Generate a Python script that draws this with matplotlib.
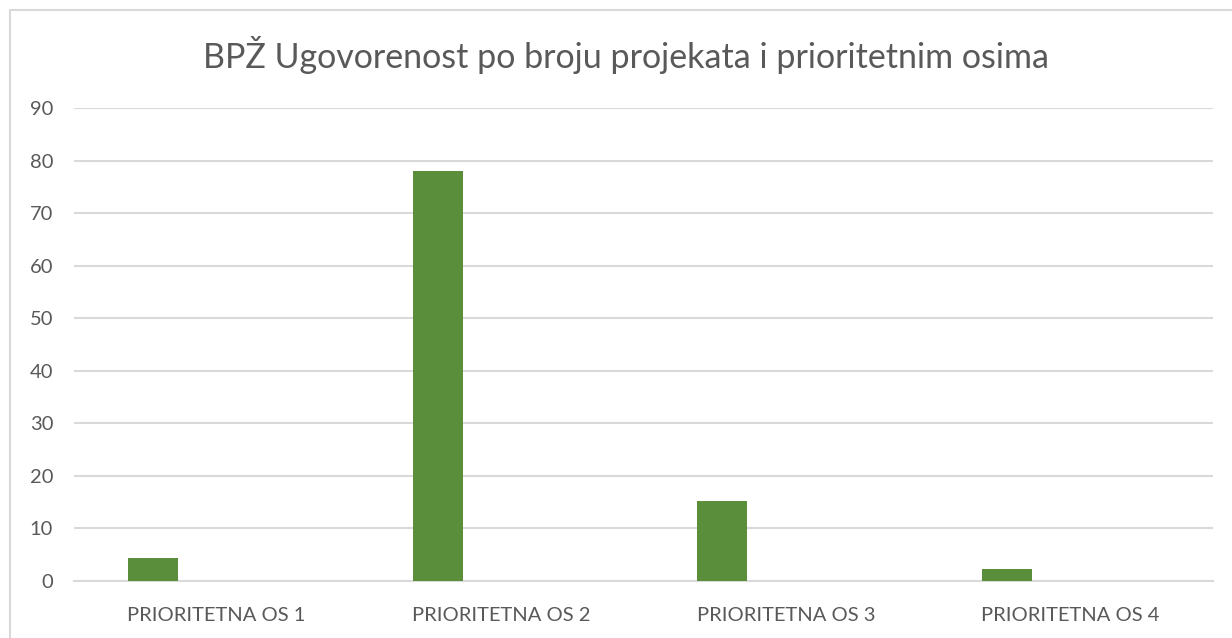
import numpy as np
import matplotlib.pyplot as plt
from matplotlib.patches import Rectangle

categories = ['PRIORITETNA OS 1', 'PRIORITETNA OS 2', 'PRIORITETNA OS 3', 'PRIORITETNA OS 4']
values = [4.4, 78, 15.3, 2.3]
yticks = [0, 10, 20, 30, 40, 50, 60, 70, 80, 90]

text_color = '#595959'
grid_color = '#D9D9D9'
bar_color = '#5B8E3A'

plt.rcParams['font.family'] = ['Lato', 'DejaVu Sans']

fig = plt.figure(figsize=(12.32, 6.38), dpi=100)
ax = fig.add_axes([74/1232, 1 - 581/638, (1213 - 74)/1232, (581 - 108)/638])

# chart frame (only top/left edges visible in the crop)
fig.patches.append(Rectangle((10/1232, -0.1), 1.2, 1 - 10/638 + 0.1,
                             transform=fig.transFigure, fill=False,
                             edgecolor=grid_color, linewidth=1.5))

x = np.arange(len(categories))
ax.bar(x - 0.2227, values, width=0.1756, color=bar_color, zorder=3)

ax.set_xlim(-0.5, len(categories) - 0.5)
ax.set_ylim(0, 90)
ax.set_yticks(yticks)
ax.set_xticks(x)
ax.set_xticklabels(categories)
ax.yaxis.grid(True, color=grid_color, linewidth=1.5, zorder=0)
ax.set_axisbelow(True)
for s in ['top', 'right', 'left']:
    ax.spines[s].set_visible(False)
ax.spines['bottom'].set_color(grid_color)
ax.spines['bottom'].set_linewidth(1.5)
ax.tick_params(axis='both', length=0, colors=text_color, labelsize=14.5)
ax.tick_params(axis='y', pad=15)
ax.tick_params(axis='x', pad=19)

fig.text(626/1232, 1 - 55/638, 'BPŽ Ugovorenost po broju projekata i prioritetnim osima',
         ha='center', va='center', fontsize=24.5, color=text_color)

fig.savefig('out.png', dpi=100)
